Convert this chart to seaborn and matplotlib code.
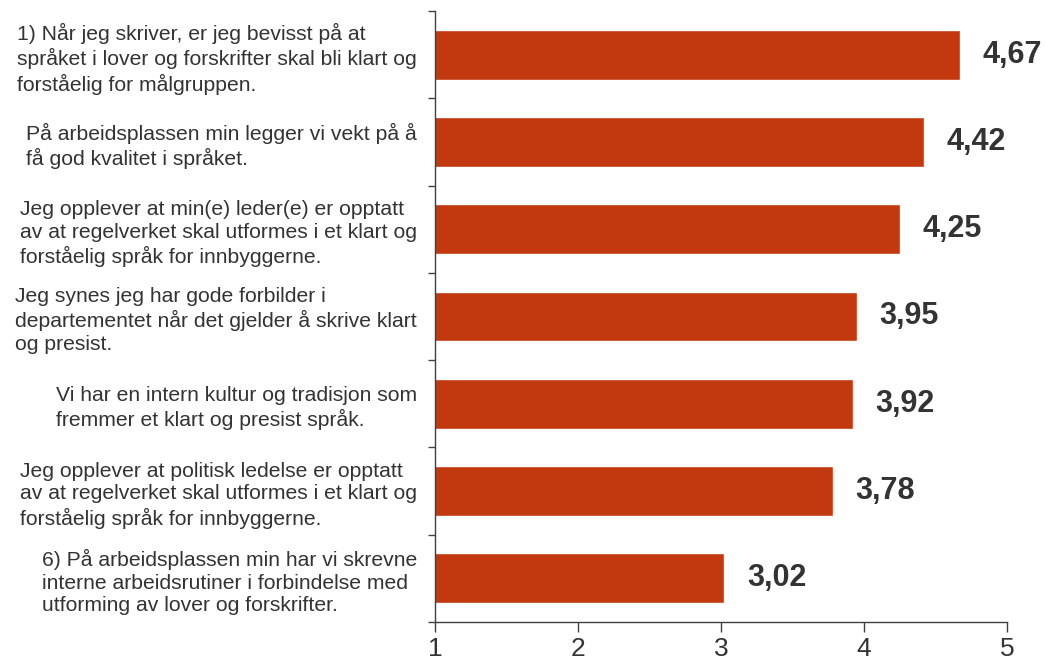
import numpy as np
import matplotlib
matplotlib.use("Agg")
import matplotlib.pyplot as plt
import seaborn as sns

# Survey statements (left labels) and mean scores
labels = [
    "1) Når jeg skriver, er jeg bevisst på at\nspråket i lover og forskrifter skal bli klart og\nforståelig for målgruppen.",
    "På arbeidsplassen min legger vi vekt på å\nfå god kvalitet i språket.",
    "Jeg opplever at min(e) leder(e) er opptatt\nav at regelverket skal utformes i et klart og\nforståelig språk for innbyggerne.",
    "Jeg synes jeg har gode forbilder i\ndepartementet når det gjelder å skrive klart\nog presist.",
    "Vi har en intern kultur og tradisjon som\nfremmer et klart og presist språk.",
    "Jeg opplever at politisk ledelse er opptatt\nav at regelverket skal utformes i et klart og\nforståelig språk for innbyggerne.",
    "6) På arbeidsplassen min har vi skrevne\ninterne arbeidsrutiner i forbindelse med\nutforming av lover og forskrifter.",
]
scores = [4.67, 4.42, 4.25, 3.95, 3.92, 3.78, 3.02]
score_text = ["4,67", "4,42", "4,25", "3,95", "3,92", "3,78", "3,02"]
x_ticks = [1, 2, 3, 4, 5]

sns.set_style("white")
plt.rcParams["font.family"] = ["Liberation Sans", "DejaVu Sans"]

text_color = "#333333"
axis_color = "#404040"
bar_color = "#C2390F"

fig = plt.figure(figsize=(10.46, 6.68), dpi=100)
ax = fig.add_axes([0.4159, 0.0689, 0.5468, 0.9146])

sns.barplot(x=scores, y=labels, orient="h", color=bar_color, saturation=1,
            width=0.57, ax=ax)

# bars start at 1 (axis minimum)
ax.set_xlim(1, 5)
ax.set_xticks(x_ticks)
ax.set_xticklabels([str(t) for t in x_ticks], fontsize=19, color=text_color)
ax.set_xlabel("")
ax.set_ylabel("")

# value labels
ax.bar_label(ax.containers[0], labels=score_text, padding=16.5, fontsize=22,
             fontweight="bold", color=text_color)

# category labels: right-aligned block, left-aligned lines
for lab in ax.get_yticklabels():
    lab.set_fontsize(15.2)
    lab.set_color(text_color)
    lab.set_multialignment("left")
    lab.set_linespacing(1.25)

ax.set_yticks(np.arange(-0.5, len(labels), 1), minor=True)
ax.tick_params(axis="y", which="major", length=0, pad=13)
ax.tick_params(axis="y", which="minor", length=5, width=1, color=axis_color, direction="out", left=True)
ax.tick_params(axis="x", which="major", length=7, width=1, color=axis_color, direction="out", pad=4, bottom=True)

sns.despine(ax=ax, top=True, right=True)
for side in ["left", "bottom"]:
    ax.spines[side].set_color(axis_color)
    ax.spines[side].set_linewidth(1)

fig.savefig("out.png", dpi=100)
